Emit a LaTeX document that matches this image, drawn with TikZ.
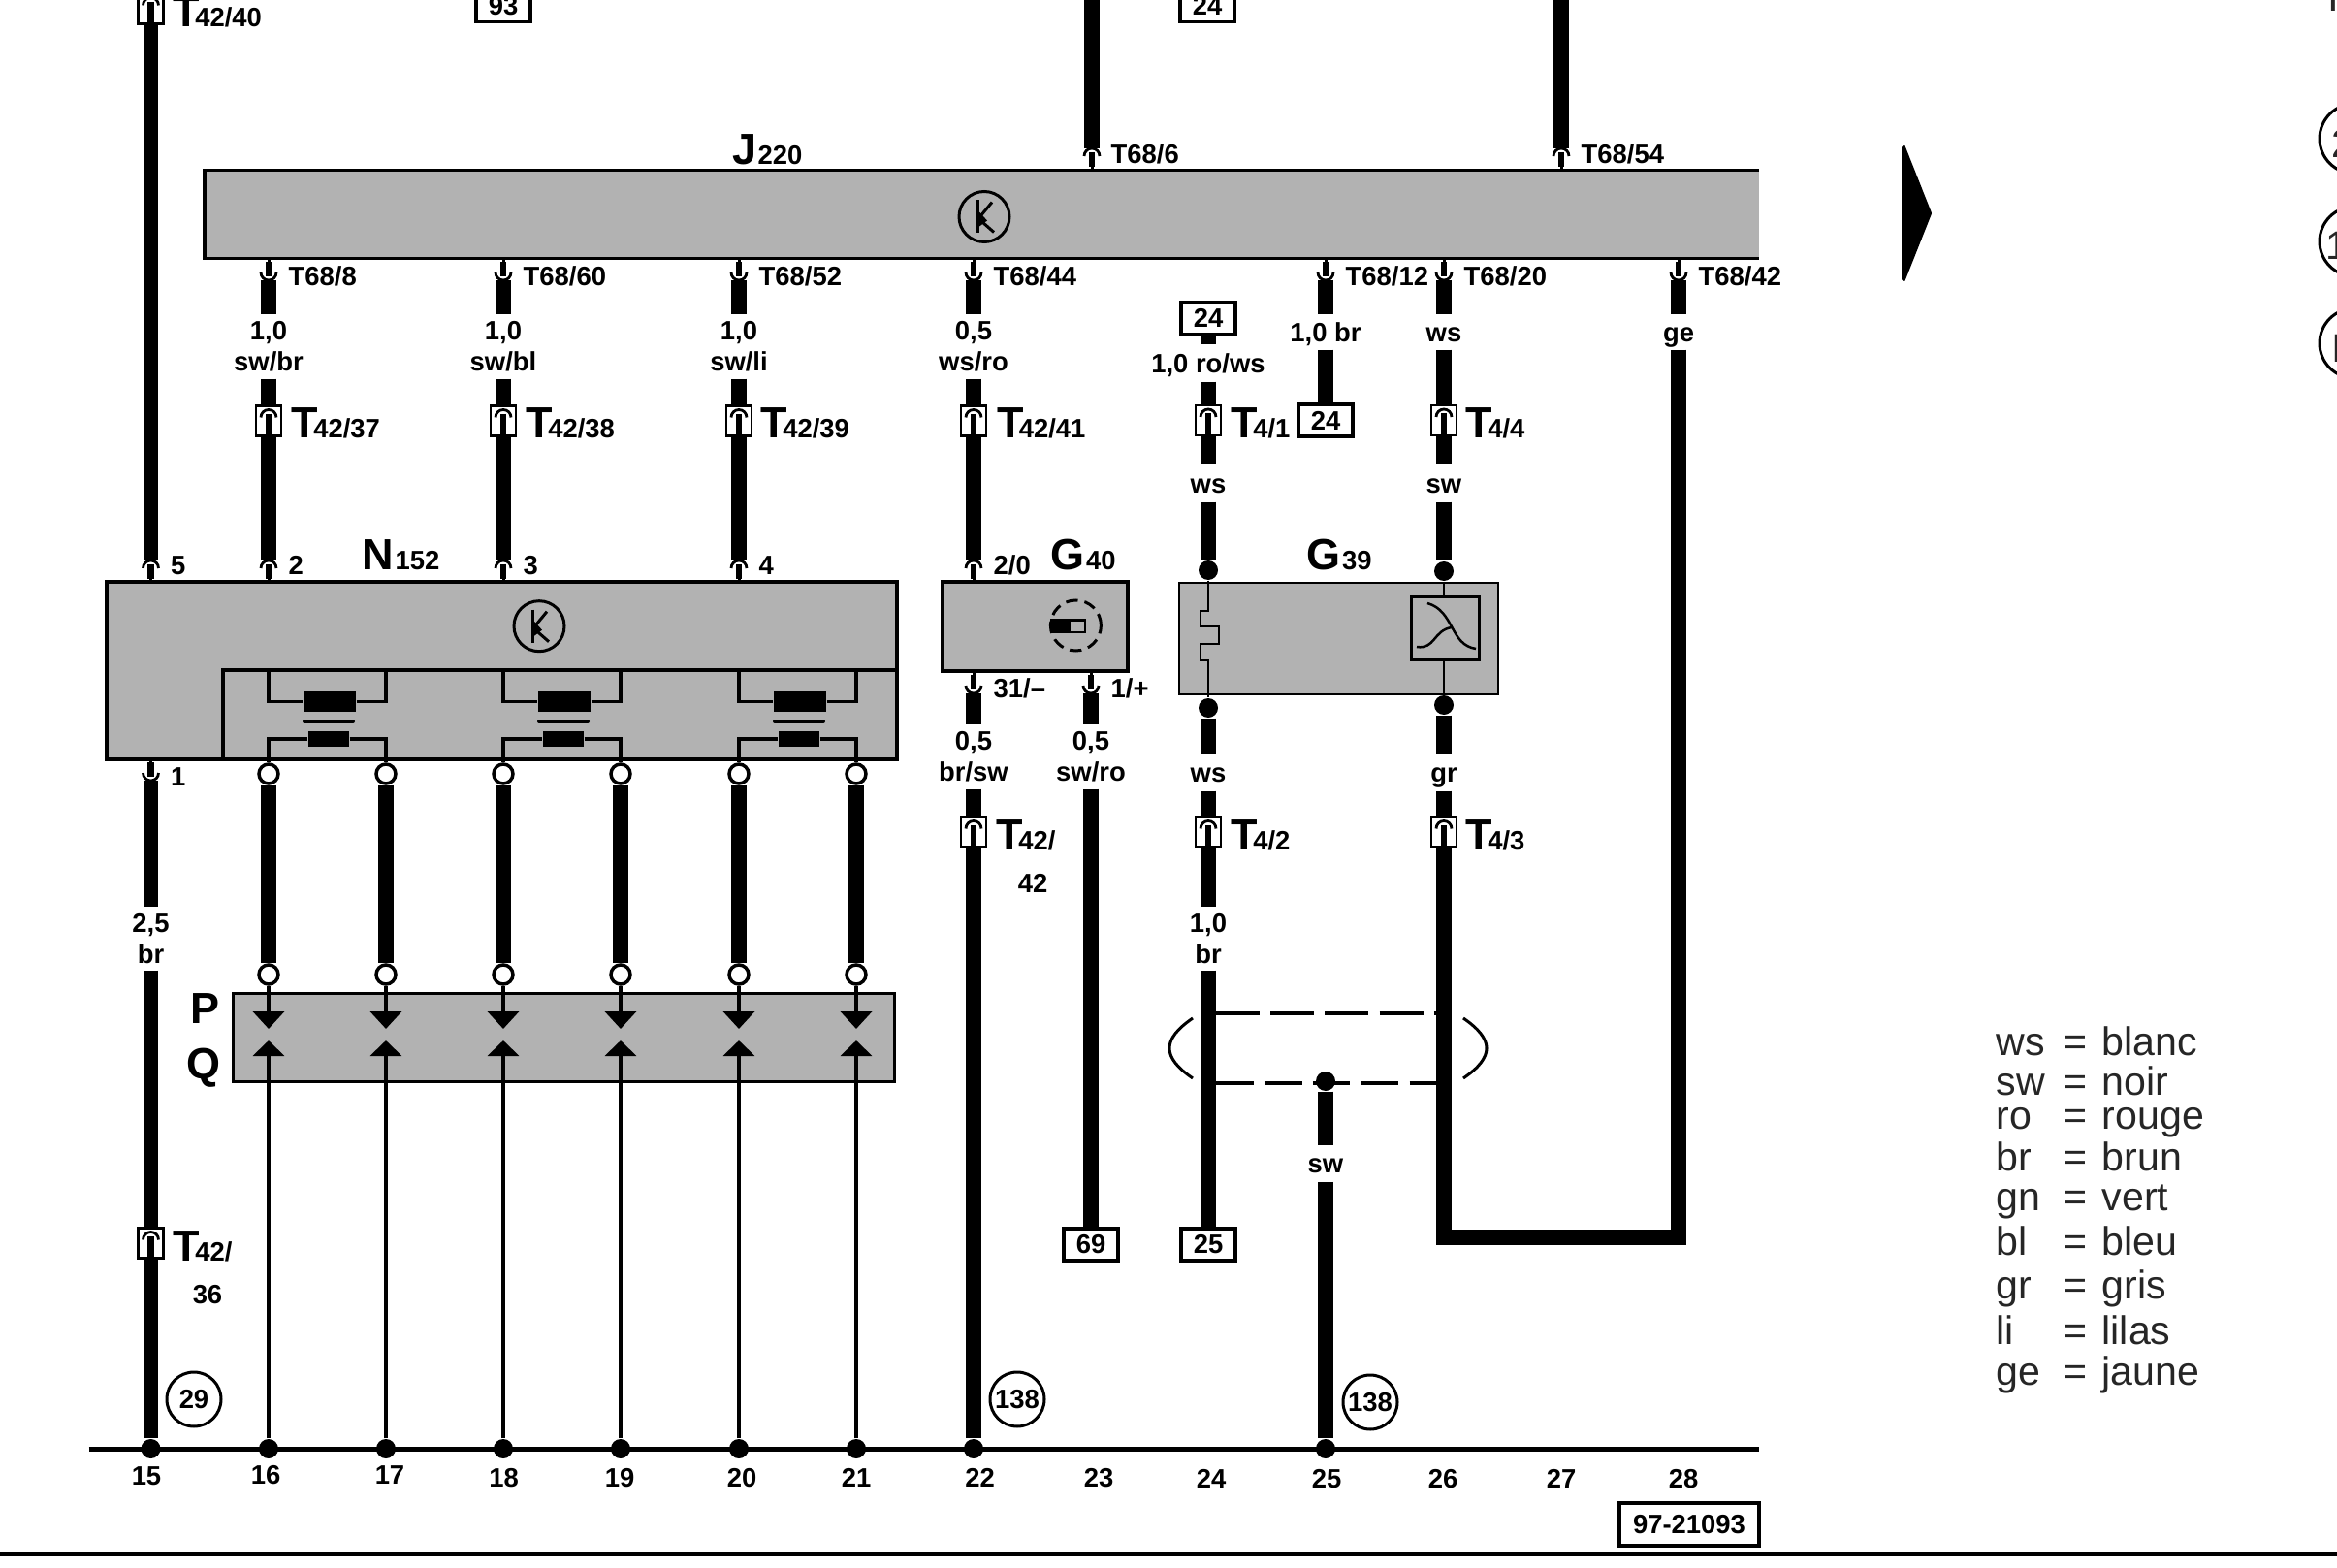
\documentclass[tikz,border=0pt]{standalone}
\usepackage{fontspec}
\setmainfont{Liberation Sans}
\usetikzlibrary{arrows.meta}
\definecolor{boxgray}{HTML}{B2B2B2}

\newcommand{\biglab}[2]{{\fontsize{12.8}{13}\selectfont #1}{\fontsize{7.8}{9}\selectfont #2}}

\tikzset{
	lab/.style={font=\bfseries\fontsize{7.8}{9}\selectfont, inner sep=0pt},
	wirelab/.style={lab, minimum height=#1, text height=0.195cm, text depth=0pt},
	wirelab/.default=0.35cm,
	wiretwo/.style={lab, align=center, minimum height=#1},
	wiretwo/.default=0.65cm,
	blab/.style={font=\bfseries, inner sep=0pt, anchor=base west},
	legendtxt/.style={font=\fontsize{11.7}{12}\selectfont, text=black!85, inner sep=0pt, anchor=base west},
	wire/.style={line width=0.155cm},
	wirethin/.style={line width=0.04cm},
	coilline/.style={line width=0.035cm},
	ecu/.style={fill=boxgray, draw=black, line width=0.035cm, inner sep=0pt},
	refbox/.style={lab, draw=black, fill=white, line width=0.035cm, minimum width=0.56cm, minimum height=0.33cm},
	tbox/.style={draw=black, fill=white, line width=0.028cm, minimum width=0.26cm, minimum height=0.31cm, inner sep=0pt},
	refcirc/.style={lab, draw=black, circle, line width=0.03cm, minimum size=0.56cm},
	ring/.style={draw=black, fill=white, circle, line width=0.035cm, minimum size=0.2cm, inner sep=0pt},
	jdot/.style={fill=black, circle, minimum size=0.2cm, inner sep=0pt},
	coilbig/.style={fill=black, minimum width=0.54cm, minimum height=0.21cm, inner sep=0pt},
	coilsmall/.style={fill=black, minimum width=0.42cm, minimum height=0.16cm, inner sep=0pt},
	pinin/.pic={
		\draw[line width=0.028cm] (-0.08,-0.08) arc (180:0:0.08);
		\draw[line width=0.065cm] (0,-0.04) -- (0,-0.19);
		\draw[line width=0.03cm] (0,-0.04) -- (0,-0.22);
	},
	tin/.pic={
		\draw[line width=0.028cm] (-0.08,0.035) arc (180:0:0.08);
		\draw[line width=0.065cm] (0,0.07) -- (0,-0.155);
	},
	trans/.pic={
		\draw[line width=0.03cm] (0,0) circle (0.26);
		\draw[line width=0.03cm] (-0.07,0.17) -- (-0.07,-0.17);
		\draw[line width=0.03cm] (0.08,0.15) -- (-0.06,-0.02) -- (0.10,-0.16);
		\fill (-0.06,0.06) -- (0.03,-0.04) -- (-0.05,-0.10) -- cycle;
	}
}

\begin{document}
\begin{tikzpicture}
	\useasboundingbox (0,0) rectangle (24.10,-16.17);

	% control units
	\node[ecu, draw=none, outer sep=0pt, minimum width=16.03cm, minimum height=0.91cm] (J) at (10.125,-2.21) {};
	\draw[line width=0.035cm] (J.north east) -- (J.north west) -- (J.south west) -- (J.south east);
	\node[ecu, minimum width=8.15cm, minimum height=1.83cm] (N) at (5.173,-6.915) {};
	\node[draw=black, line width=0.035cm, minimum width=6.95cm, minimum height=0.92cm, inner sep=0pt] (Nb) at (5.775,-7.37) {};
	\node[ecu, minimum width=1.91cm, minimum height=0.92cm] (G40) at (10.675,-6.46) {};
	\node[ecu, line width=0.028cm, minimum width=3.29cm, minimum height=1.15cm] (G39) at (13.805,-6.585) {};
	\node[ecu, line width=0.03cm, minimum width=6.82cm, minimum height=0.91cm] (PQ) at (5.81,-10.70) {};
	\pic at (10.15,-2.235) {trans};
	\pic at (5.56,-6.457) {trans};

	\node[blab] (Jname) at (7.545,-1.70) {\biglab{J}{\kern0.4pt 220}};
	\node[blab] (Nname) at (3.73,-5.87) {\biglab{N}{\kern0.4pt 152}};
	\node[blab] (G40name) at (10.83,-5.87) {\biglab{G}{\kern0.4pt 40}};
	\node[blab] (G39name) at (13.47,-5.87) {\biglab{G}{\kern0.4pt 39}};
	\node[blab] (Pname) at (1.96,-10.55) {\biglab{P}{}};
	\node[blab] (Qname) at (1.92,-11.12) {\biglab{Q}{}};

	% coils in N152
	\foreach \i/\a/\b in {1/2.77/3.98, 2/5.19/6.40, 3/7.62/8.83} {
		\node[coilbig] (ca\i) at ({\a+0.63},-7.235) {};
		\node[coilsmall] (cb\i) at ({\a+0.62},-7.62) {};
		\draw[line width=0.04cm, line cap=round] ({\a+0.37},-7.44) -- ({\a+0.87},-7.44);
		\draw[coilline] (\a,-6.91) |- (ca\i) -| (\b,-6.91);
		\draw[coilline] (\a,-7.83) |- (cb\i) -| (\b,-7.83);
	}

	% ground bar
	\draw[line width=0.05cm] (0.915,-14.94) -- (18.14,-14.94);
	\draw[line width=0.05cm] (0,-16.02) -- (24.10,-16.02);

	% wires to P/Q
	\foreach \x/\n/\gx/\gy in {
		2.77/16/2.74/15.21,
		3.98/17/4.02/15.21,
		5.19/18/5.195/15.24,
		6.40/19/6.39/15.24,
		7.62/20/7.65/15.24,
		8.83/21/8.83/15.24
	}
	{
		\node[ring] (oa\n) at (\x,-7.98) {};
		\node[ring] (ob\n) at (\x,-10.05) {};
		\coordinate (pa\n) at (\x,-10.61);
		\coordinate (qa\n) at (\x,-10.73);
		\node[jdot] (g\n) at (\x,-14.94) {};
		\node[lab] (num\n) at (\gx,-\gy) {\n};
		\draw[wirethin] (N.south -| oa\n) -- (oa\n);
		\draw[wire] (oa\n) -- (ob\n);
		\draw[wirethin, -{Triangle[width=0.32cm,length=0.18cm]}] (ob\n) -- (pa\n);
		\draw[wirethin, -{Triangle[width=0.32cm,length=0.16cm]}] (g\n) -- (qa\n);
	}

	% connectors T
	\foreach \n/\x/\y/\lx/\ly/\num in {
		t40/1.555/0.09/1.78/0.28/{42/40},
		t37/2.77/4.34/3.00/4.52/{42/37},
		t38/5.19/4.34/5.42/4.52/{42/38},
		t39/7.62/4.34/7.84/4.52/{42/39},
		t41/10.04/4.34/10.275/4.52/{42/41},
		t36/1.555/12.82/1.78/13.00/{42/},
		t42/10.04/8.58/10.27/8.76/{42/},
		ta1/12.46/4.335/12.69/4.52/{4/1},
		ta4/14.89/4.335/15.11/4.52/{4/4},
		ta2/12.46/8.58/12.69/8.76/{4/2},
		ta3/14.89/8.58/15.11/8.76/{4/3}
	}
	{
		\node[tbox] (\n) at (\x,-\y) {};
		\pic at (\n) {tin};
		\node[blab] (name\n) at (\lx,-\ly) {\biglab{T}{\kern-1.4pt\num}};
	}
	\node[lab] (t36b) at (2.14,-13.35) {36};
	\node[lab] (t42b) at (10.65,-9.11) {42};

	% reference boxes
	\node[refbox] (b93) at (5.19,-0.06) {93};
	\node[refbox] (b24top) at (12.45,-0.06) {24};
	\node[refbox] (b24a) at (12.46,-3.28) {24};
	\node[refbox] (b24b) at (13.67,-4.335) {24};
	\node[refbox] (b69) at (11.25,-12.835) {69};
	\node[refbox] (b25) at (12.46,-12.835) {25};
	\node[refbox, minimum width=1.44cm, minimum height=0.44cm] (bno) at (17.42,-15.72) {97-21093};
	\node[refcirc] (c29) at (2.00,-14.43) {29};
	\node[refcirc] (c138a) at (10.49,-14.43) {138};
	\node[refcirc] (c138b) at (14.13,-14.46) {138};

	% pins on the control units
	\foreach \n/\x/\t/\tx in {
		pa/11.26/{T68/6}/11.45,
		pb/16.10/{T68/54}/16.30
	}
	{
		\coordinate (\n) at (\x,-1.53);
		\coordinate (top\n) at (\x,0);
		\pic at (\n) {pinin};
		\node[lab, anchor=base west] (txt\n) at (\tx,-1.685) {\t};
	}
	\foreach \n/\x/\t in {
		j8/2.77/{T68/8},
		j60/5.19/{T68/60},
		j52/7.62/{T68/52},
		j44/10.04/{T68/44},
		j12/13.67/{T68/12},
		j20/14.89/{T68/20},
		j42/17.31/{T68/42}
	}
	{
		\coordinate (\n) at (\x,-2.89);
		\pic[yscale=-1] at (\n) {pinin};
		\node[lab, anchor=base west] (txt\n) at ({\x+0.2},-2.95) {\t};
	}
	\foreach \n/\x/\t in {
		n5/1.555/5,
		n2/2.77/2,
		n3/5.19/3,
		n4/7.62/4,
		g20/10.04/{2/0}
	}
	{
		\coordinate (\n) at (\x,-5.78);
		\pic at (\n) {pinin};
		\node[lab, anchor=base west] (txt\n) at ({\x+0.2},-5.925) {\t};
	}
	\foreach \n/\x/\y/\t/\ly in {
		n1/1.555/8.05/1/8.10,
		g31/10.04/7.15/{31/--}/7.19,
		g1/11.25/7.15/{1/+}/7.19
	}
	{
		\coordinate (\n) at (\x,-\y);
		\pic[yscale=-1] at (\n) {pinin};
		\node[lab, anchor=base west] (txt\n) at ({\x+0.2},-\ly) {\t};
	}

	% wire labels
	\node[wiretwo] (l8) at (2.77,-3.575) {1,0\\sw/br};
	\node[wiretwo] (l60) at (5.19,-3.575) {1,0\\sw/bl};
	\node[wiretwo] (l52) at (7.62,-3.575) {1,0\\sw/li};
	\node[wiretwo] (l44) at (10.04,-3.575) {0,5\\ws/ro};
	\node[wirelab] (l12) at (13.67,-3.425) {1,0 br};
	\node[wirelab] (l20) at (14.89,-3.425) {ws};
	\node[wirelab] (l42) at (17.31,-3.425) {ge};
	\node[wirelab=0.37cm] (lrw) at (12.46,-3.745) {1,0 ro/ws};
	\node[wirelab=0.37cm] (lw1) at (12.46,-4.985) {ws};
	\node[wirelab=0.37cm] (lw2) at (14.89,-4.985) {sw};
	\node[wiretwo] (l31) at (10.04,-7.805) {0,5\\br/sw};
	\node[wiretwo] (l23) at (11.25,-7.805) {0,5\\sw/ro};
	\node[wirelab=0.36cm] (lw3) at (12.46,-7.97) {ws};
	\node[wirelab=0.36cm] (lgr) at (14.89,-7.97) {gr};
	\node[wiretwo=0.64cm] (l25) at (1.555,-9.68) {2,5\\br};
	\node[wiretwo=0.64cm] (l10) at (12.46,-9.68) {1,0\\br};
	\node[wirelab=0.365cm] (lsw) at (13.67,-12.00) {sw};

	% dots at G39, shield and ground
	\node[jdot] (da) at (12.46,-5.88) {};
	\node[jdot] (db) at (14.89,-5.89) {};
	\node[jdot] (dc) at (12.46,-7.30) {};
	\node[jdot] (dd) at (14.89,-7.27) {};
	\node[jdot] (ds) at (13.67,-11.15) {};
	\node[jdot] (g15) at (1.555,-14.94) {};
	\node[jdot] (g22) at (10.04,-14.94) {};
	\node[jdot] (g25) at (13.67,-14.94) {};
	\node[lab] (num15) at (1.51,-15.22) {15};
	\node[lab] (num22) at (10.105,-15.24) {22};
	\node[lab] (num23) at (11.33,-15.24) {23};
	\node[lab] (num24) at (12.49,-15.25) {24};
	\node[lab] (num25) at (13.68,-15.25) {25};
	\node[lab] (num26) at (14.88,-15.25) {26};
	\node[lab] (num27) at (16.10,-15.25) {27};
	\node[lab] (num28) at (17.36,-15.25) {28};

	% shield
	\draw[line width=0.035cm, dash pattern=on 12.8pt off 3.2pt] (12.54,-10.45) -- (14.82,-10.45);
	\draw[line width=0.035cm, dash pattern=on 11pt off 3.2pt] (12.54,-11.17) -- (14.82,-11.17);
	\draw[line width=0.03cm] (12.30,-10.50) .. controls (11.98,-10.72) and (11.98,-10.90) .. (12.30,-11.12);
	\draw[line width=0.03cm] (15.09,-10.50) .. controls (15.41,-10.72) and (15.41,-10.90) .. (15.09,-11.12);

	% wires
	\draw[wire] (t40) -- (n5);
	\draw[wire] (toppa) -- (pa);
	\draw[wire] (toppb) -- (pb);
	\draw[wire] (j8) -- (l8);
	\draw[wire] (l8) -- (t37);
	\draw[wire] (t37) -- (n2);
	\draw[wire] (j60) -- (l60);
	\draw[wire] (l60) -- (t38);
	\draw[wire] (t38) -- (n3);
	\draw[wire] (j52) -- (l52);
	\draw[wire] (l52) -- (t39);
	\draw[wire] (t39) -- (n4);
	\draw[wire] (j44) -- (l44);
	\draw[wire] (l44) -- (t41);
	\draw[wire] (t41) -- (g20);
	\draw[wire] (j12) -- (l12);
	\draw[wire] (l12) -- (b24b);
	\draw[wire] (j20) -- (l20);
	\draw[wire] (l20) -- (ta4);
	\draw[wire] (ta4) -- (lw2);
	\draw[wire] (lw2) -- (db);
	\draw[wire] (j42) -- (l42);
	\draw[wire] (b24a) -- (lrw);
	\draw[wire] (lrw) -- (ta1);
	\draw[wire] (ta1) -- (lw1);
	\draw[wire] (lw1) -- (da);
	\draw[wire] (dc) -- (lw3);
	\draw[wire] (lw3) -- (ta2);
	\draw[wire] (ta2) -- (l10);
	\draw[wire] (l10) -- (b25);
	\draw[wire] (dd) -- (lgr);
	\draw[wire] (lgr) -- (ta3);
	\draw[wire, line join=miter] (l42) -- (17.31,-12.76) -- (14.89,-12.76) -- (ta3);
	\draw[wire] (n1) -- (l25);
	\draw[wire] (l25) -- (t36);
	\draw[wire] (t36) -- (g15);
	\draw[wire] (g31) -- (l31);
	\draw[wire] (l31) -- (t42);
	\draw[wire] (t42) -- (g22);
	\draw[wire] (g1) -- (l23);
	\draw[wire] (l23) -- (b69);
	\draw[wire] (ds) -- (lsw);
	\draw[wire] (lsw) -- (g25);

	% inside G39 and G40
	\draw[line width=0.028cm] (da) -- (12.46,-6.30) -- (12.38,-6.30) -- (12.38,-6.46) -- (12.57,-6.46) -- (12.57,-6.64) -- (12.38,-6.64) -- (12.38,-6.81) -- (12.46,-6.81) -- (dc);
	\node[draw=black, line width=0.03cm, minimum width=0.70cm, minimum height=0.65cm, inner sep=0pt] (curve) at (14.90,-6.475) {};
	\draw[line width=0.028cm] (db) -- (db |- curve.north);
	\draw[line width=0.028cm] (dd |- curve.south) -- (dd);
	\draw[line width=0.025cm] (14.72,-6.22) .. controls (15.0,-6.30) and (14.95,-6.65) .. (15.22,-6.69);
	\draw[line width=0.025cm] (14.61,-6.67) .. controls (14.80,-6.70) and (14.78,-6.50) .. (14.97,-6.47);
	\draw[line width=0.03cm, dash pattern=on 3.5pt off 2pt] (11.094,-6.45) circle (0.26);
	\fill (10.83,-6.38) rectangle (11.20,-6.53);
	\fill[boxgray] (11.04,-6.41) rectangle (11.18,-6.51);

	% arrow and legend
	\filldraw[line width=0.04cm, line join=round] (19.63,-1.52) -- (19.90,-2.20) -- (19.63,-2.88) -- cycle;
	\foreach \n/\y/\c/\t in {
		a/10.886/ws/blanc,
		b/11.29/sw/noir,
		c/11.646/ro/rouge,
		d/12.075/br/brun,
		e/12.48/gn/vert,
		f/12.945/bl/bleu,
		g/13.39/gr/gris,
		h/13.86/li/lilas,
		i/14.28/ge/jaune
	}
	{
		\node[legendtxt] (lc\n) at (20.58,-\y) {\c};
		\node[legendtxt] (le\n) at (21.28,-\y) {=};
		\node[legendtxt] (lt\n) at (21.67,-\y) {\t};
	}

	% circles cut off at the edge
	\node[draw=black, circle, line width=0.03cm, minimum size=0.72cm] (ea) at (24.28,-1.43) {};
	\node[draw=black, circle, line width=0.03cm, minimum size=0.72cm] (eb) at (24.28,-2.49) {};
	\node[draw=black, circle, line width=0.03cm, minimum size=0.72cm] (ec) at (24.28,-3.54) {};
	\node[legendtxt] (eat) at (24.04,-1.63) {2};
	\node[legendtxt] (ebt) at (23.98,-2.68) {1};
	\node[legendtxt] (ect) at (24.04,-3.74) {I};
	\node[legendtxt, font=\fontsize{12}{12}\selectfont] (etop) at (24.00,-0.12) {I};
\end{tikzpicture}
\end{document}
